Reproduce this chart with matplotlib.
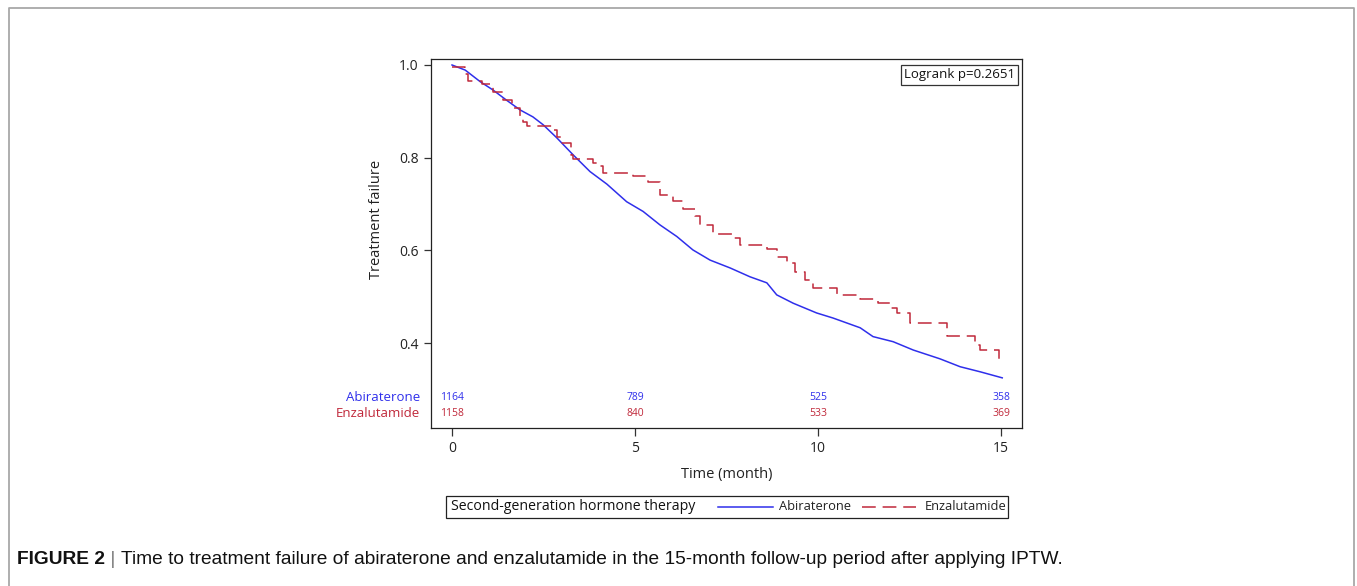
import numpy as np
import matplotlib.pyplot as plt
from matplotlib.lines import Line2D
from matplotlib.patches import Rectangle

plt.rcParams['font.family'] = ['Open Sans', 'DejaVu Sans']

# Abiraterone curve
abi_t = [0, 0.36, 0.77, 1.12, 1.49, 1.86, 2.21, 2.49, 2.86, 3.31, 3.77, 4.23,
         4.77, 5.22, 5.68, 6.14, 6.58, 7.05, 7.60, 8.14, 8.60, 8.87, 9.32,
         9.96, 10.41, 11.15, 11.50, 12.05, 12.60, 13.33, 13.88, 14.43, 15.03]
abi_s = [1.0, 0.989, 0.964, 0.946, 0.924, 0.903, 0.888, 0.871, 0.843, 0.806,
         0.770, 0.743, 0.705, 0.684, 0.655, 0.630, 0.601, 0.579, 0.562, 0.543,
         0.530, 0.504, 0.486, 0.465, 0.454, 0.433, 0.414, 0.403, 0.385, 0.366,
         0.349, 0.338, 0.325]

# Enzalutamide step curve
enz_t = [0, 0.36, 0.45, 0.81, 1.13, 1.40, 1.63, 1.86, 1.95, 2.04, 2.77, 2.86,
         2.97, 3.24, 3.31, 3.86, 4.00, 4.13, 4.95, 5.36, 5.68, 6.05, 6.32,
         6.64, 6.78, 7.14, 7.64, 7.87, 8.60, 8.87, 9.14, 9.37, 9.64, 9.87,
         10.51, 11.15, 11.65, 11.97, 12.15, 12.51, 13.52, 14.29, 14.43, 14.93,
         15.03]
enz_s = [0.995, 0.980, 0.966, 0.958, 0.942, 0.925, 0.907, 0.888, 0.878, 0.868,
         0.860, 0.845, 0.831, 0.806, 0.797, 0.788, 0.781, 0.768, 0.760, 0.748,
         0.720, 0.707, 0.689, 0.674, 0.655, 0.635, 0.626, 0.612, 0.602, 0.585,
         0.572, 0.554, 0.536, 0.518, 0.504, 0.495, 0.486, 0.475, 0.464, 0.444,
         0.416, 0.396, 0.386, 0.362, 0.362]

risk_times = [0, 5, 10, 15]
abi_risk = [1164, 789, 525, 358]
enz_risk = [1158, 840, 533, 369]

blue = '#2F2FEB'
red = '#C0283A'

W, H = 1357, 586
fig = plt.figure(figsize=(W / 100, H / 100), dpi=100)
ax = fig.add_axes([431 / W, 1 - 428 / H, (1022 - 431) / W, (428 - 59) / H])

ax.plot(abi_t, abi_s, color=blue, lw=1.1)
ax.plot(enz_t, enz_s, color=red, lw=1.1, drawstyle='steps-post',
        dashes=(9, 4.5))

ax.set_xlim(-0.574, 15.57)
ax.set_ylim(0.2168, 1.0129)
ax.set_xticks([0, 5, 10, 15])
ax.set_yticks([0.4, 0.6, 0.8, 1.0])
ax.set_yticklabels(['0.4', '0.6', '0.8', '1.0'])
ax.tick_params(labelsize=10, length=5, width=0.9, color='#333333',
               labelcolor='#222222', pad=4)
ax.tick_params(axis='x', pad=3, length=6)
for sp in ax.spines.values():
    sp.set_linewidth(0.9)
    sp.set_color('#222222')

ax.set_ylabel('Treatment failure', fontsize=10.5, labelpad=10, color='#222222')
ax.yaxis.set_label_coords(-0.080, 0.566)
ax.set_xlabel('Time (month)', fontsize=10.5, labelpad=8, color='#222222')

# at-risk table inside the frame
tr = ax.get_xaxis_transform()
for t, a, e in zip(risk_times, abi_risk, enz_risk):
    ax.text(t, 0.084, str(a), transform=tr, ha='center', va='center',
            fontsize=7.5, color=blue)
    ax.text(t, 0.038, str(e), transform=tr, ha='center', va='center',
            fontsize=7.5, color=red)
ax.text(-0.019, 0.084, 'Abiraterone', transform=ax.transAxes, ha='right',
        va='center', fontsize=9.5, color=blue)
ax.text(-0.019, 0.038, 'Enzalutamide', transform=ax.transAxes, ha='right',
        va='center', fontsize=9.5, color=red)

ax.text(0.988, 0.975, 'Logrank p=0.2651', transform=ax.transAxes, ha='right',
        va='top', fontsize=9.5, color='#111111',
        bbox=dict(boxstyle='square,pad=0.25', fc='white', ec='#333333', lw=0.9))

# legend below the plot
def fx(px):
    return px / W

def fy(py):
    return 1 - py / H

fig.patches.append(Rectangle((fx(446), fy(518)), fx(1008) - fx(446),
                             fy(496) - fy(518), transform=fig.transFigure,
                             fill=False, ec='#222222', lw=0.9))
fig.text(fx(451), fy(507), 'Second-generation hormone therapy', fontsize=10.2,
         va='center', ha='left', color='#111111')
fig.lines.append(Line2D([fx(718), fx(773)], [fy(507), fy(507)],
                        transform=fig.transFigure, color=blue, lw=1.1))
fig.text(fx(779), fy(507), 'Abiraterone', fontsize=9.3, va='center',
         ha='left', color='#222222')
fig.lines.append(Line2D([fx(862), fx(916)], [fy(507), fy(507)],
                        transform=fig.transFigure, color=red, lw=1.1,
                        dashes=(9, 4.5, 9, 4.5, 9, 4.5, 1.5, 3)))
fig.text(fx(925), fy(507), 'Enzalutamide', fontsize=9.3, va='center',
         ha='left', color='#222222')

# outer grey frame
frame_x = [fx(9), fx(9), fx(1354), fx(1354)]
frame_y = [0, fy(8), fy(8), 0]
fig.lines.append(Line2D(frame_x, frame_y, transform=fig.transFigure,
                        color='#A8A8A8', lw=1.3))

# caption
cap_font = ['Liberation Sans']
cap = fig.text(fx(17), fy(560), 'FIGURE 2', fontsize=13.8, fontweight='bold',
               family=cap_font, va='center', ha='left', color='#111111')
bar = ax.annotate(' | ', xy=(1, 0.5), xycoords=cap, va='center', ha='left',
                  fontsize=13.8, color='#777777', family=cap_font,
                  annotation_clip=False)
ax.annotate('Time to treatment failure of abiraterone and enzalutamide in the '
            '15-month follow-up period after applying IPTW.',
            xy=(1, 0.5), xycoords=bar, va='center', ha='left', fontsize=13.8,
            color='#111111', family=cap_font, annotation_clip=False)

fig.savefig('out.png', dpi=100)
